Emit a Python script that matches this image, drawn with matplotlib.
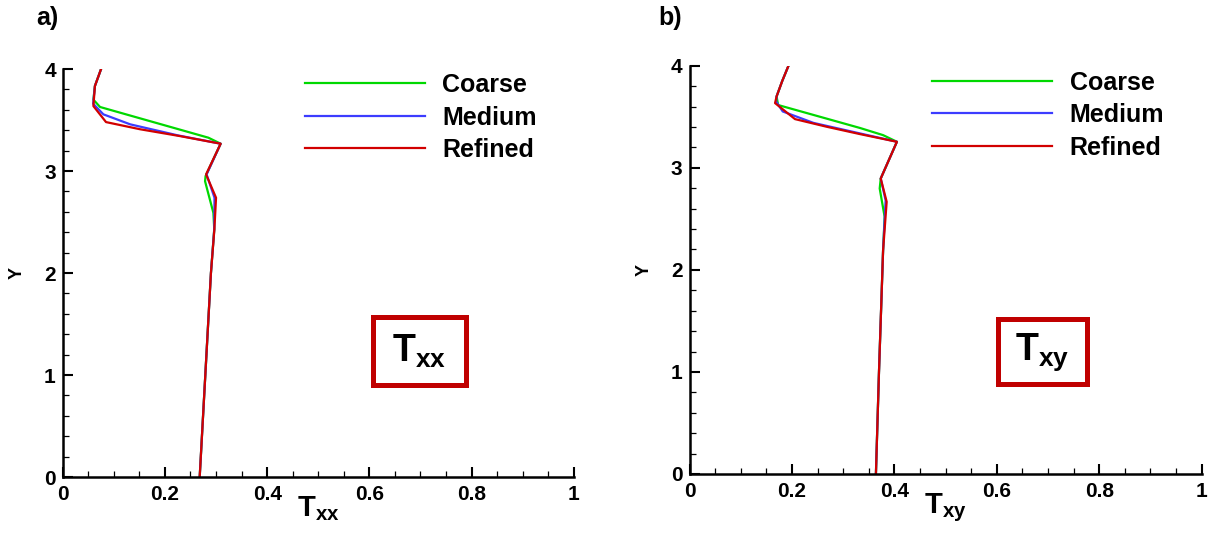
import matplotlib
matplotlib.use("Agg")
import matplotlib.pyplot as plt
from matplotlib.patches import Rectangle
from matplotlib.ticker import MultipleLocator

plt.rcParams['font.family'] = ['Liberation Sans', 'DejaVu Sans']
plt.rcParams['font.weight'] = 'bold'
plt.rcParams['mathtext.fontset'] = 'custom'
plt.rcParams['mathtext.bf'] = 'Liberation Sans:bold'
plt.rcParams['mathtext.rm'] = 'Liberation Sans:bold'
plt.rcParams['mathtext.it'] = 'Liberation Sans:bold'

# Txx profiles (a)
txx_coarse_y = [4.0, 3.834, 3.70, 3.628, 3.327, 3.268, 2.950, 2.900, 2.590, 2.430, 2.0, 1.0, 0.0]
txx_coarse_x = [0.075, 0.063, 0.060, 0.073, 0.285, 0.309, 0.2795, 0.2785, 0.2948, 0.2965, 0.290, 0.279, 0.268]
txx_medium_y = [4.0, 3.834, 3.66, 3.556, 3.458, 3.35, 3.268, 2.967, 2.738, 2.430, 2.0, 1.0, 0.0]
txx_medium_x = [0.075, 0.063, 0.0595, 0.0795, 0.132, 0.225, 0.309, 0.2815, 0.297, 0.2965, 0.290, 0.279, 0.268]
txx_refined_y = [4.0, 3.834, 3.637, 3.48, 3.41, 3.343, 3.268, 2.967, 2.738, 2.426, 2.0, 1.0, 0.0]
txx_refined_x = [0.075, 0.063, 0.060, 0.0847, 0.151, 0.229, 0.309, 0.2805, 0.300, 0.2967, 0.290, 0.279, 0.268]

# Txy profiles (b)
txy_coarse_y = [3.997, 3.85, 3.699, 3.615, 3.39, 3.32, 3.255, 2.895, 2.797, 2.52, 2.19, 1.0, 0.0]
txy_coarse_x = [0.193, 0.181, 0.170, 0.173, 0.333, 0.378, 0.405, 0.3734, 0.3714, 0.381, 0.378, 0.370, 0.364]
txy_medium_y = [3.997, 3.85, 3.699, 3.65, 3.552, 3.44, 3.34, 3.255, 2.895, 2.68, 2.19, 1.0, 0.0]
txy_medium_x = [0.193, 0.181, 0.170, 0.169, 0.182, 0.242, 0.330, 0.405, 0.3734, 0.383, 0.378, 0.370, 0.364]
txy_refined_y = [3.997, 3.85, 3.699, 3.634, 3.477, 3.402, 3.330, 3.255, 2.895, 2.667, 2.19, 1.0, 0.0]
txy_refined_x = [0.193, 0.181, 0.170, 0.167, 0.206, 0.268, 0.333, 0.405, 0.3734, 0.385, 0.378, 0.370, 0.364]

labels = ['Coarse', 'Medium', 'Refined']
colors = ['#00d800', '#3c3cff', '#d20000']

fig = plt.figure(figsize=(12.11, 5.34), dpi=100)
ax1 = fig.add_axes([0.0518, 0.1067, 0.422, 0.764])
ax2 = fig.add_axes([0.5694, 0.1124, 0.4228, 0.7645])


def style(ax):
    ax.set_xlim(0, 1)
    ax.set_ylim(0, 4)
    for s in ['top', 'right']:
        ax.spines[s].set_visible(False)
    for s in ['left', 'bottom']:
        ax.spines[s].set_linewidth(1.8)
    ax.xaxis.set_major_locator(MultipleLocator(0.2))
    ax.xaxis.set_minor_locator(MultipleLocator(0.05))
    ax.yaxis.set_major_locator(MultipleLocator(1))
    ax.yaxis.set_minor_locator(MultipleLocator(0.2))
    ax.set_xticks([0, 0.2, 0.4, 0.6, 0.8, 1.0])
    ax.set_xticklabels(['0', '0.2', '0.4', '0.6', '0.8', '1'])
    ax.tick_params(which='major', direction='in', length=7.5, width=1.5)
    ax.tick_params(which='minor', direction='in', length=4, width=0.9)
    ax.tick_params(axis='x', which='major', labelsize=15, pad=6)
    ax.tick_params(axis='y', which='major', labelsize=15, pad=5)
    ax.set_ylabel('Y', fontsize=13, fontweight='bold')


panels = [
    (ax1, [(txx_coarse_x, txx_coarse_y), (txx_medium_x, txx_medium_y), (txx_refined_x, txx_refined_y)],
     r'$\mathbf{T_{xx}}$', -0.073, 0.4736, 0.990, (0.6076, 0.2245, 0.1806, 0.1669)),
    (ax2, [(txy_coarse_x, txy_coarse_y), (txy_medium_x, txy_medium_y), (txy_refined_x, txy_refined_y)],
     r'$\mathbf{T_{xy}}$', -0.072, 0.4736, 0.988, (0.6017, 0.2193, 0.1738, 0.1593)),
]

for ax, series, name, ylx, lgx, lgy, box in panels:
    style(ax)
    for (xs, ys), lab, c in zip(series, labels, colors):
        ax.plot(xs, ys, color=c, lw=1.6, label=lab)
    ax.yaxis.set_label_coords(ylx, 0.5)
    ax.set_xlabel(name, fontsize=21)
    ax.xaxis.set_label_coords(0.5, -0.043)
    ax.legend(loc='upper left', bbox_to_anchor=(lgx, lgy), frameon=False,
              fontsize=18, handlelength=4.8, handletextpad=0.7,
              labelspacing=0.34, borderpad=0, borderaxespad=0)
    bx, by, bw, bh = box
    ax.add_patch(Rectangle((bx, by), bw, bh, transform=ax.transAxes,
                           fill=True, fc='white', ec='#c00000', lw=3.6, zorder=5))
    ax.text(bx + bw / 2, by + bh / 2, name, transform=ax.transAxes,
            ha='center', va='center', fontsize=27, zorder=6)

fig.text(0.030, 0.966, 'a)', fontsize=18, fontweight='bold', va='center')
fig.text(0.544, 0.966, 'b)', fontsize=18, fontweight='bold', va='center')

fig.savefig('out.png', dpi=100)
